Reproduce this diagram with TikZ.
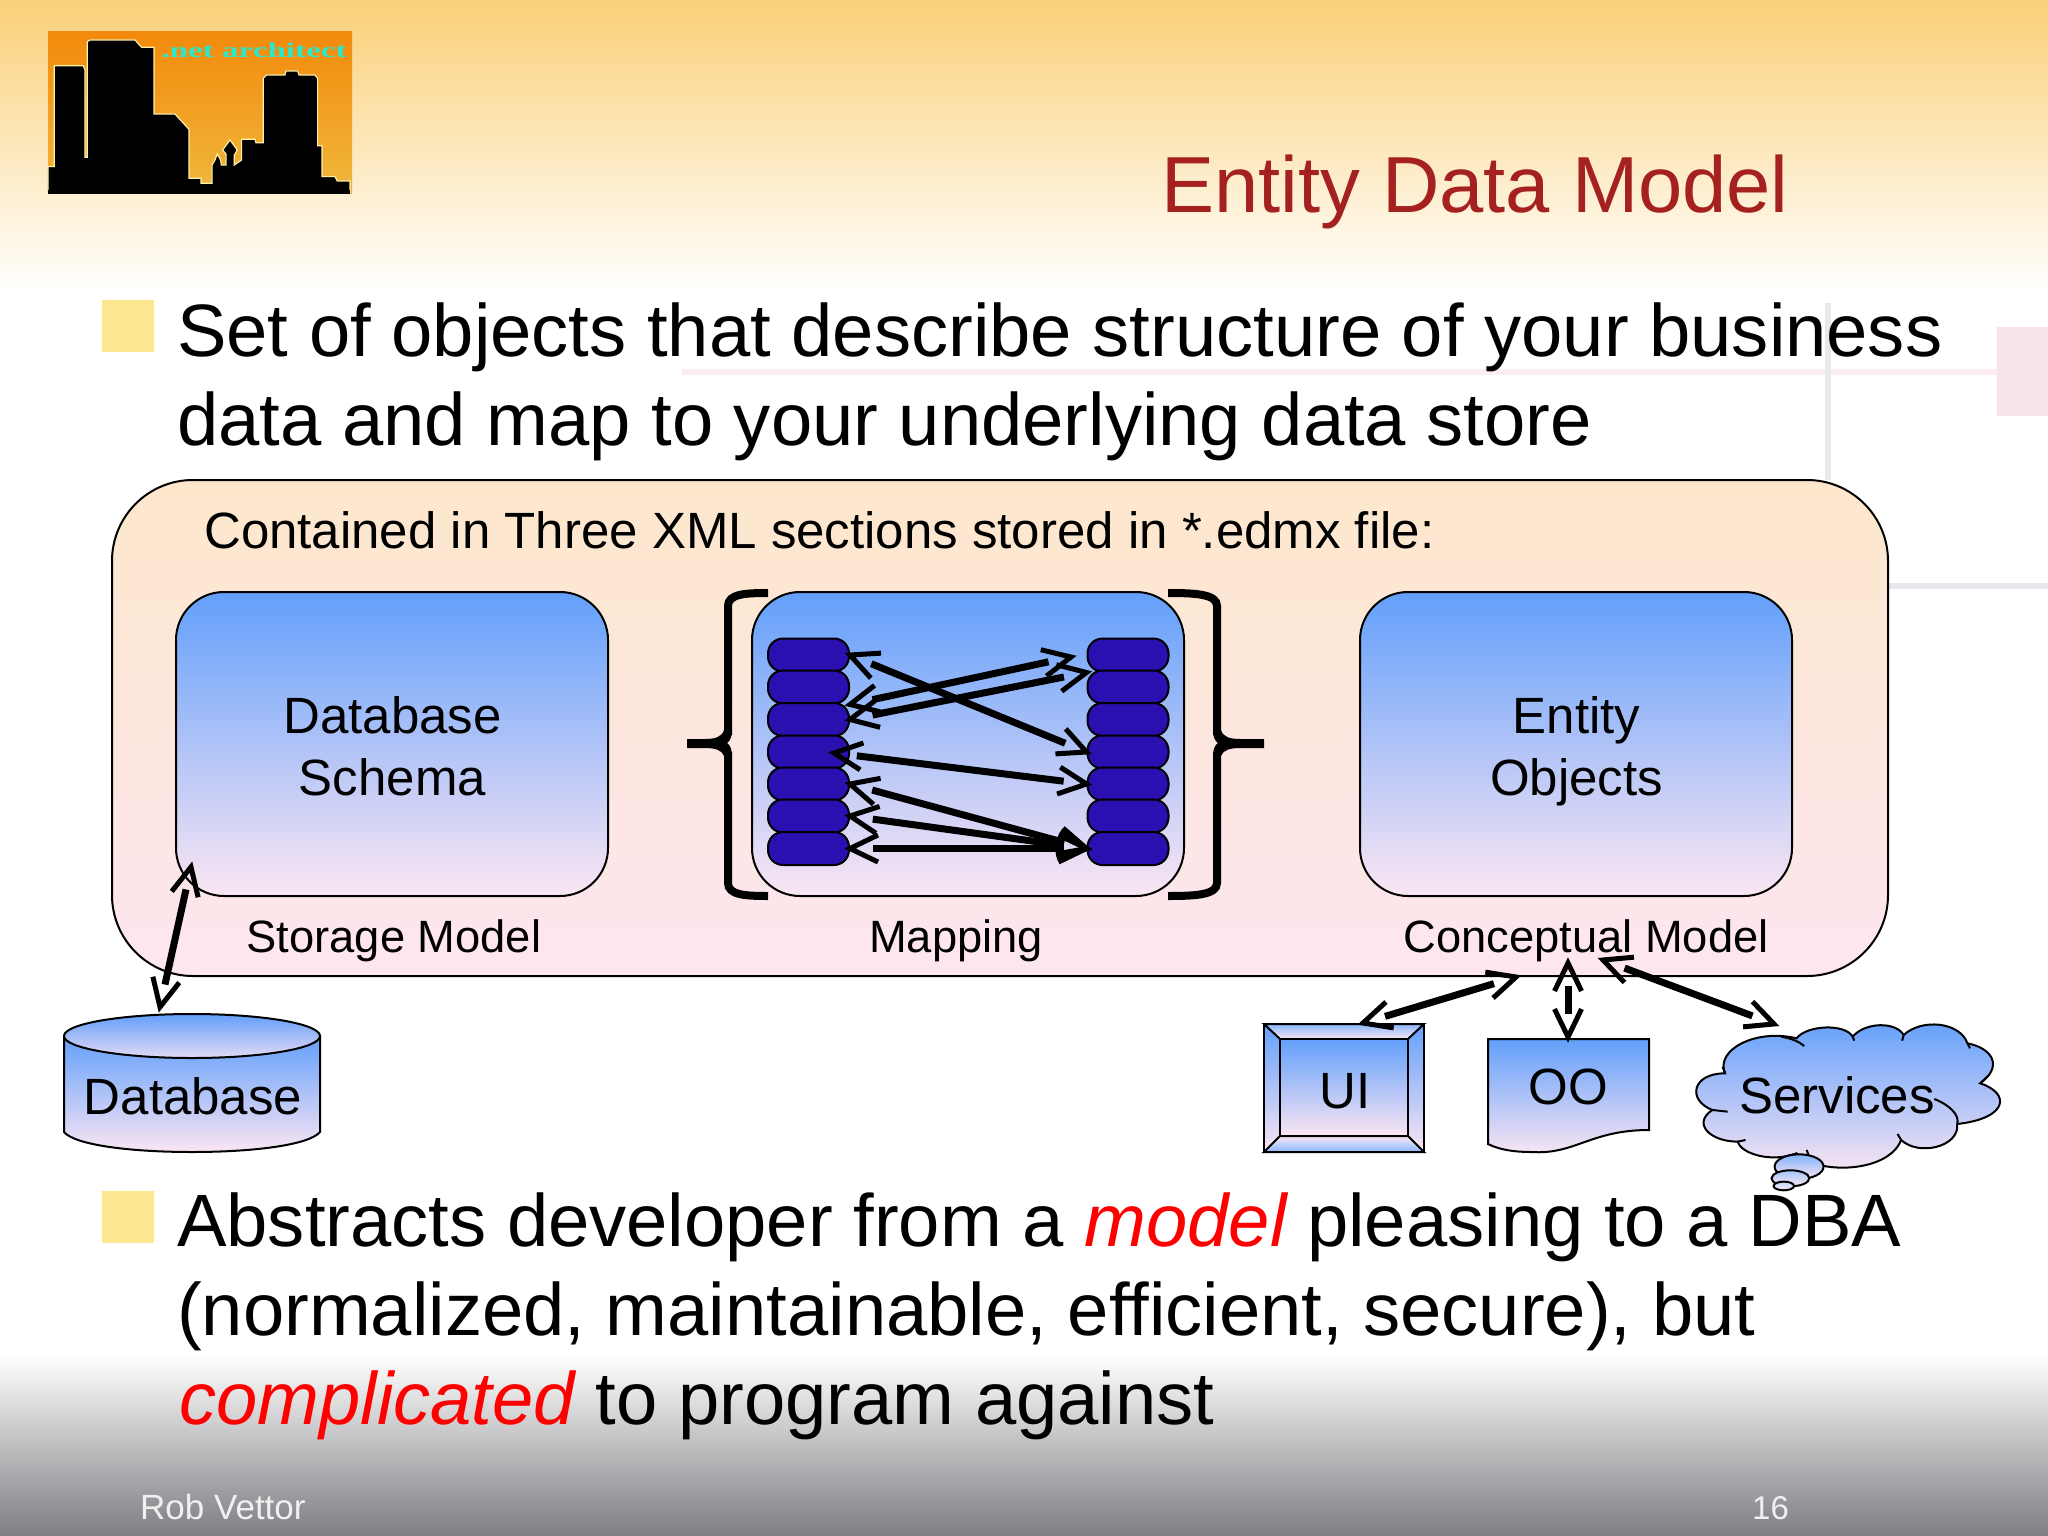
\documentclass[tikz,border=0pt]{standalone}
\usepackage{fontspec}
\setmainfont{Liberation Sans}
\newfontfamily\logofont{Liberation Serif}
\usetikzlibrary{calc,decorations.markings,shadings}
\definecolor{gtop}{HTML}{629FFB}
\definecolor{gbot}{HTML}{FBE6F3}
\definecolor{otop}{HTML}{FDE7CC}
\definecolor{obot}{HTML}{FDE6EF}
\definecolor{pill}{HTML}{2A10B0}
\definecolor{titlered}{HTML}{A4211F}
\definecolor{redit}{HTML}{FF0000}
\definecolor{bullet}{HTML}{FDE78F}
\definecolor{bgtop}{RGB}{250,208,120}
\definecolor{bgbot}{RGB}{126,126,131}
\definecolor{decopink}{RGB}{251,237,241}
\definecolor{decopinkb}{RGB}{250,228,235}
\definecolor{decogray}{RGB}{232,232,236}
\definecolor{logotop}{RGB}{242,138,12}
\definecolor{logobot}{RGB}{240,184,60}
\definecolor{logoedge}{RGB}{255,240,170}
\definecolor{logotext}{RGB}{46,230,200}
\newcommand{\fs}[1]{\fontsize{#1}{#1}\selectfont}
\tikzset{
  blue grad/.style={top color=gtop,bottom color=gbot,draw=black,line width=2pt},
  bigbox/.style={blue grad,rounded corners=48pt,minimum width=432pt,minimum height=304pt,inner sep=0pt},
  pillnode/.style={fill=pill,draw=black,line width=2pt,rounded corners=15pt,minimum width=81pt,minimum height=33pt,inner sep=0pt},
  body/.style={anchor=base west,inner sep=0pt,font=\fs{74.2}},
  lab/.style={anchor=base,inner sep=0pt,font=\fs{45.3}},
  shapetext/.style={anchor=base,inner sep=0pt,font=\fs{51}},
  foot/.style={anchor=base west,inner sep=0pt,text=white!94!black},
  bulletbox/.style={fill=bullet,minimum width=52pt,minimum height=52pt,inner sep=0pt},
  twoway/.style={line width=7pt,shorten <=23pt,shorten >=23pt,postaction={decorate},
    decoration={markings,
      mark=at position 0 with {\draw[line width=5pt,shorten <=0pt,shorten >=0pt,miter limit=10] (28pt,13.5pt)--(0pt,0pt)--(28pt,-13.5pt);},
      mark=at position 1 with {\draw[line width=5pt,shorten <=0pt,shorten >=0pt,miter limit=10] (-28pt,13.5pt)--(0pt,0pt)--(-28pt,-13.5pt);}}},
  decoline/.style={line width=6pt},
  bracket/.style={line width=8pt},
}
\begin{document}
\begin{tikzpicture}[x=1pt,y=-1pt]
\useasboundingbox (0,0) rectangle (2048,1536);
\fill[white] (0,0) rectangle (2048,1536);
% background
\shade[top color=bgtop,bottom color=white] (0,0) rectangle (2048,292);
\shade[top color=white,bottom color=bgbot] (0,1355) rectangle (2048,1536);
% decoration
\draw[decoline,draw=decopink] (682,372) -- (2000,372);
\fill[decopinkb] (1997,327) rectangle (2048,416);
\draw[decoline,draw=decogray] (1828,303) -- (1828,480);
\draw[decoline,draw=decogray] (1888,586) -- (2048,586);
% logo
\shade[top color=logotop,bottom color=logobot] (48,32) rectangle (352,193);
\begin{scope}[x=0.3333pt,y=-0.3333pt]
\draw[fill=black,draw=logoedge,line width=1.2pt]
 (144,578) -- (144,500) -- (163,500) -- (163,197) -- (250,197) -- (255,210) -- (255,472) -- (262,472) -- (262,125) -- (270,120) -- (405,120) -- (425,142) -- (462,142) -- (462,342) -- (525,342) -- (567,388) -- (567,535) -- (603,535) -- (603,550) -- (636,550) -- (636,495) -- (645,480) -- (652,462) -- (662,480) -- (664,495) -- (678,495) -- (678,462) -- (668,450) -- (690,420) -- (712,450) -- (703,465) -- (703,495) -- (725,480) -- (725,418) -- (765,418) -- (768,428) -- (790,428) -- (790,235) -- (800,225) -- (855,225) -- (858,213) -- (893,213) -- (897,225) -- (945,225) -- (953,235) -- (953,437) -- (966,437) -- (966,530) -- (1005,530) -- (1012,543) -- (1050,543) -- (1050,578) -- cycle;
\end{scope}
\fill[black] (48,190) rectangle (350,193.5);
\node[anchor=base,inner sep=0pt,font=\logofont\bfseries\fs{21},text=logotext,xscale=1.58] (logotxt) at (254,58) {.net architect};
% title and text
\node[anchor=base west,inner sep=0pt,font=\fs{79.5},text=titlered] (title) at (1161,212) {Entity Data Model};
\node[bulletbox] (b1) at (128,326) {};
\node[body] (t1) at (177,356) {Set of objects that describe structure of your business};
\node[body] (t2) at (177,445) {data and map to your underlying data store};
% outer box
\node[top color=otop,bottom color=obot,draw=black,line width=2pt,rounded corners=81pt,minimum width=1776pt,minimum height=496pt,inner sep=0pt] (outer) at (1000,728) {};
\node[anchor=base west,inner sep=0pt,font=\fs{51}] (contained) at (204,548) {Contained in Three XML sections stored in *.edmx file:};
\node[bigbox] (schema) at (392,744) {};
\node[shapetext] (schema1) at (392.5,733.5) {Database};
\node[shapetext] (schema2) at (392.5,795.5) {Schema};
\node[bigbox] (entity) at (1576,744) {};
\node[shapetext] (entity1) at (1576.5,733.5) {Entity};
\node[shapetext] (entity2) at (1576.5,795.5) {Objects};
\node[bigbox] (mapbox) at (968,744) {};
\node[lab] (storage) at (394,952) {Storage Model};
\node[lab] (mapping) at (956,952) {Mapping};
\node[lab] (concept) at (1586,952) {Conceptual Model};
% brackets
\draw[bracket] (768,593) .. controls (745,593) and (728,594) .. (728,606) -- (728,735);
\draw[bracket] (768,896) .. controls (745,896) and (728,895) .. (728,883) -- (728,752);
\fill (687,739) -- (705,739) .. controls (715,739) and (722,737) .. (724,730) -- (732,730) .. controls (732,737) and (730,741) .. (727,743) .. controls (730,745) and (732,749) .. (732,756) -- (724,756) .. controls (722,750) and (715,748) .. (705,748) -- (687,748) -- cycle;
\draw[bracket] (1168,593) .. controls (1195,593) and (1217,594) .. (1217,606) -- (1217,735);
\draw[bracket] (1168,896) .. controls (1195,896) and (1217,895) .. (1217,883) -- (1217,752);
\fill (1264,739) -- (1240,739) .. controls (1230,739) and (1223,737) .. (1221,730) -- (1213,730) .. controls (1213,737) and (1215,741) .. (1218,743) .. controls (1215,745) and (1213,749) .. (1213,756) -- (1221,756) .. controls (1223,750) and (1230,748) .. (1240,748) -- (1264,748) -- cycle;
% pills
\foreach \i/\yy in {1/655,2/687,3/719.5,4/752,5/784,6/816,7/848.5}{
  \node[pillnode] (L\i) at (808.5,\yy) {};
  \node[pillnode] (R\i) at (1128,\yy) {};
}
\coordinate (Bright) at (1071,657);
\coordinate (Dleft) at (834,753);
\draw[twoway] (L1.east) -- (R4.west);
\draw[twoway] (L2.south east) -- (Bright);
\draw[twoway] (L3.east) -- (R1.south west);
\draw[twoway] (Dleft) -- (R5.west);
\draw[twoway] (L5.east) -- (R7.west);
\draw[twoway] (L6.east) -- (R7.west);
\draw[twoway] (L7.east) -- (R7.west);
% database
\path[blue grad] (64,1036) -- (64,1132) .. controls (75,1145) and (130,1152) .. (192,1152) .. controls (254,1152) and (309,1145) .. (320,1132) -- (320,1036) -- cycle;
\path[top color=gtop,bottom color=gbot!85!gtop,draw=black,line width=2pt] (192,1036) ellipse [x radius=128,y radius=22];
\node[shapetext] (database) at (193,1114) {Database};
\coordinate (dbtop) at (191,867);
\coordinate (dbbot) at (160,1007);
\draw[twoway] (dbtop) -- (dbbot);
% UI
\path[blue grad] (1264,1024) rectangle (1424,1152);
\path[top color=gtop!75!white,bottom color=gbot,draw=black,line width=2pt] (1264,1024) -- (1424,1024) -- (1408,1039) -- (1280,1039) -- cycle;
\path[top color=gbot,bottom color=gtop!75!white,draw=black,line width=2pt] (1264,1152) -- (1424,1152) -- (1408,1136) -- (1280,1136) -- cycle;
\path[blue grad] (1280,1039) rectangle (1408,1136);
\node[shapetext] (ui) at (1345,1108) {UI};
% OO
\path[blue grad] (1488,1039) -- (1649,1039) -- (1649,1130) .. controls (1590,1130) and (1575,1155) .. (1531,1152) .. controls (1515,1152) and (1500,1150) .. (1488,1144) -- cycle;
\node[shapetext] (oo) at (1568,1104) {OO};
% cloud
\begin{scope}[shift={(1220,920)},x=0.5102pt,y=-0.3333pt]
\path[blue grad] (990,460) .. controls (970,390) and (1050,325) .. (1130,355)
 .. controls (1150,315) and (1225,310) .. (1240,350)
 .. controls (1265,305) and (1325,305) .. (1340,345)
 .. controls (1375,295) and (1450,305) .. (1465,370)
 .. controls (1515,385) and (1535,440) .. (1490,490)
 .. controls (1550,520) and (1545,595) .. (1445,612)
 .. controls (1450,680) and (1370,710) .. (1335,660)
 .. controls (1310,760) and (1170,765) .. (1130,700)
 .. controls (1080,730) and (1020,700) .. (1015,665)
 .. controls (960,665) and (925,610) .. (965,570)
 .. controls (915,540) and (925,460) .. (990,460) -- cycle;
\draw[line width=2pt] (1100,350) .. controls (1120,355) and (1135,365) .. (1145,378)
 (1240,350) -- (1243,362) (1340,345) -- (1337,362) (1465,370) -- (1470,385) (1490,490) -- (1505,468)
 (1445,612) .. controls (1450,585) and (1430,555) .. (1400,537)
 (1335,660) -- (1328,642) (1150,690) -- (1155,712) (1015,665) -- (1030,660) (965,570) -- (995,575) (990,460) -- (985,440);
\path[top color=gtop!80!white,bottom color=gbot,draw=black,line width=2pt] (1135,740) ellipse [x radius=48,y radius=37];
\path[top color=gtop!60!white,bottom color=gbot,draw=black,line width=2pt] (1118,775) ellipse [x radius=37,y radius=24];
\path[top color=gtop!40!white,bottom color=gbot,draw=black,line width=2pt] (1105,798) ellipse [x radius=20,y radius=13];
\end{scope}
\node[shapetext] (services) at (1837,1113) {Services};
\coordinate (uiTip) at (1363,1023);
\coordinate (uiTop) at (1516,977);
\coordinate (ooTop) at (1568,963);
\coordinate (ooBot) at (1568,1037);
\coordinate (svTop) at (1603,960);
\coordinate (svBot) at (1774,1024);
\draw[twoway] (uiTop) -- (uiTip);
\draw[twoway] (ooTop) -- (ooBot);
\draw[twoway] (svTop) -- (svBot);
% lower text
\node[bulletbox] (b2) at (128,1217) {};
\node[body] (t3) at (177,1246) {Abstracts developer from a {\itshape\color{redit}model} pleasing to a DBA};
\node[body] (t4) at (177,1335) {(normalized, maintainable, efficient, secure), but};
\node[body] (t5) at (179,1424) {{\itshape\color{redit}complicated} to program against};
\node[foot,font=\fs{35}] (author) at (140,1519) {Rob Vettor};
\node[foot,font=\fs{33}] (page) at (1752,1519) {16};
\end{tikzpicture}
\end{document}
